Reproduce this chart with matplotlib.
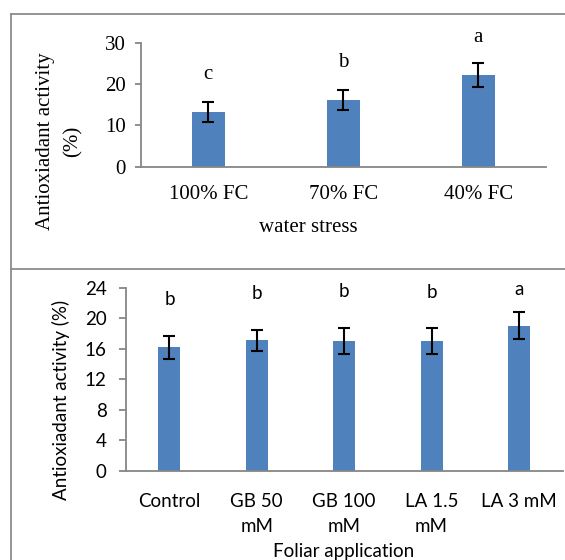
import numpy as np
import matplotlib.pyplot as plt
from matplotlib.lines import Line2D

# water stress panel
stress_labels = ["100% FC", "70% FC", "40% FC"]
stress_mean = [13.3, 16.1, 22.2]
stress_err = [2.4, 2.5, 3.0]
stress_sig = ["c", "b", "a"]

# foliar application panel
foliar_labels = ["Control", "GB 50\nmM", "GB 100\nmM", "LA 1.5\nmM", "LA 3 mM"]
foliar_mean = [16.2, 17.1, 17.0, 17.0, 19.0]
foliar_err = [1.5, 1.4, 1.75, 1.65, 1.75]
foliar_sig = ["b", "b", "b", "b", "a"]

BAR = "#4F81BD"
AXC = "#868686"
W, H = 565, 560

fig = plt.figure(figsize=(W / 100, H / 100), dpi=100)


def fx(px):
    return px / W


def fy(py):
    return 1 - py / H


# frame lines around the panels
frame = "#8c8c8c"
fig.lines.append(Line2D([fx(11), fx(11)], [fy(14), 0], color=frame, lw=1.3, transform=fig.transFigure))
fig.lines.append(Line2D([fx(11), 1], [fy(14), fy(14)], color=frame, lw=1.3, transform=fig.transFigure))
fig.lines.append(Line2D([fx(11), 1], [fy(269.3), fy(269.3)], color=frame, lw=1.3, transform=fig.transFigure))


def style(ax, font, size, ticklen, pad_y, pad_x):
    for s in ["top", "right"]:
        ax.spines[s].set_visible(False)
    for s in ["left", "bottom"]:
        ax.spines[s].set_color(AXC)
        ax.spines[s].set_linewidth(1.3)
    ax.tick_params(axis="y", length=ticklen, width=1.3, color=AXC, pad=pad_y,
                   labelsize=size)
    ax.tick_params(axis="x", length=0, pad=pad_x, labelsize=size)
    for lab in ax.get_xticklabels() + ax.get_yticklabels():
        lab.set_family(font)


# ---- top chart ----
ax1 = fig.add_axes([fx(140.7), fy(166.7), fx(405), 124 / H])
x1 = np.arange(len(stress_labels))
ax1.bar(x1, stress_mean, width=0.245, color=BAR, zorder=2)
ax1.errorbar(x1, stress_mean, yerr=stress_err, fmt="none", ecolor="black",
             elinewidth=1.5, capsize=4.3, capthick=1.5, zorder=3)
ax1.set_xlim(-0.5, 2.5)
ax1.set_ylim(0, 30)
ax1.set_yticks([0, 10, 20, 30])
ax1.set_xticks(x1)
ax1.set_xticklabels(stress_labels)
style(ax1, "Liberation Serif", 15, 4, 7, 13.5)
for xi, m, e, s in zip(x1, stress_mean, stress_err, stress_sig):
    ax1.text(xi, min(m + e + 5.5, 30.2), s, ha="center", va="baseline",
             family="Liberation Serif", fontsize=15)

fig.text(fx(308.8), fy(228), "water stress", ha="center", va="center",
         family="Liberation Serif", fontsize=15)
fig.text(fx(46), fy(141), "Antioxiadant activity", ha="center", va="center",
         rotation=90, family="Liberation Serif", fontsize=15)
fig.text(fx(73), fy(141), "(%)", ha="center", va="center",
         rotation=90, family="Liberation Serif", fontsize=15)

# ---- bottom chart ----
ax2 = fig.add_axes([fx(125.7), fy(470.7), fx(437), 183 / H])
x2 = np.arange(len(foliar_labels))
ax2.bar(x2, foliar_mean, width=0.25, color=BAR, zorder=2)
ax2.errorbar(x2, foliar_mean, yerr=foliar_err, fmt="none", ecolor="black",
             elinewidth=1.5, capsize=4.3, capthick=1.5, zorder=3)
ax2.set_xlim(-0.5, 4.5)
ax2.set_ylim(0, 24)
ax2.set_yticks(np.arange(0, 25, 4))
ax2.set_xticks(x2)
ax2.set_xticklabels(foliar_labels, linespacing=1.6)
style(ax2, "Lato", 13.5, 4.8, 9, 16)
for xi, m, e, s in zip(x2, foliar_mean, foliar_err, foliar_sig):
    ax2.text(xi, min(m + e + 4, 23.1), s, ha="center", va="baseline",
             family="Lato", fontsize=13.5)

fig.text(fx(344), fy(551), "Foliar application", ha="center", va="center",
         family="Lato", fontsize=13.5)
fig.text(fx(61), fy(400), "Antioxiadant activity (%)", ha="center", va="center",
         rotation=90, family="Lato", fontsize=13.5)

fig.savefig("out.png", dpi=100)
